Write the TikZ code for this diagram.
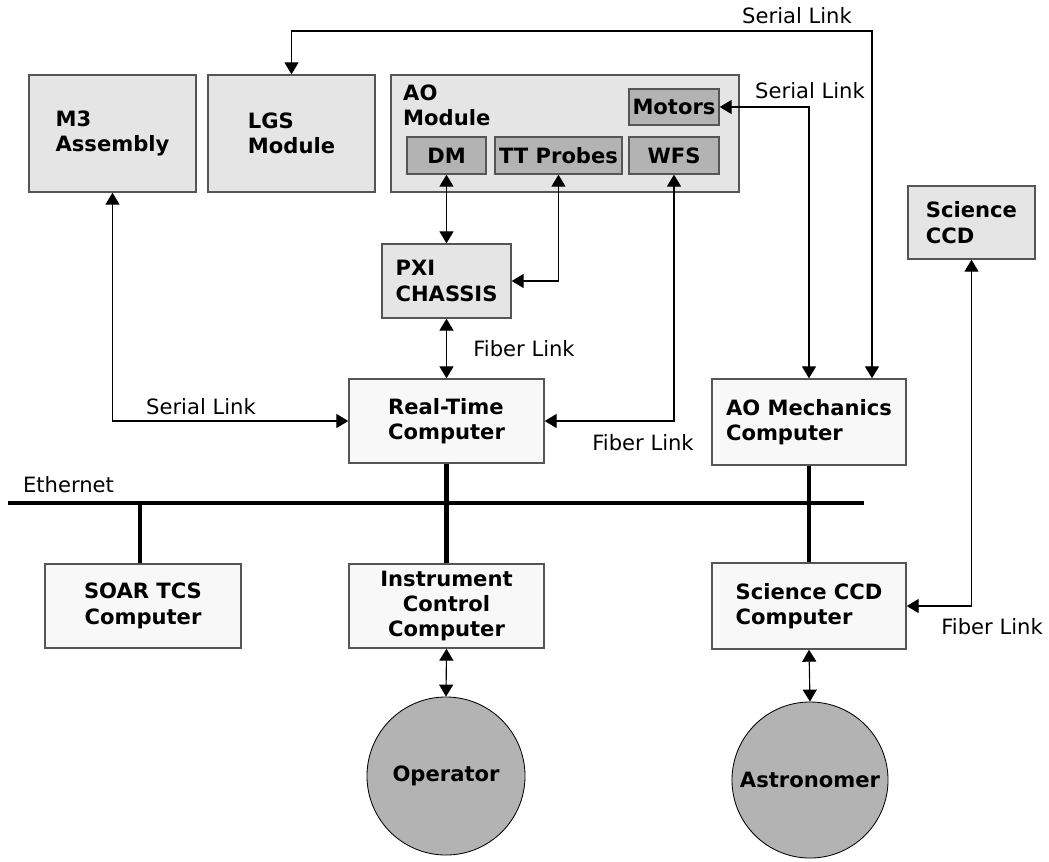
\documentclass[tikz,border=0pt]{standalone}
\usepackage{fontspec}
\setmainfont{DejaVu Sans}
\usetikzlibrary{arrows.meta}
\definecolor{boxgray}{HTML}{E5E5E5}
\definecolor{partgray}{HTML}{B3B3B3}
\definecolor{compgray}{HTML}{F8F8F8}
\definecolor{edgegray}{HTML}{555555}
\begin{document}
\begin{tikzpicture}[x=0.025cm,y=-0.025cm,
	font=\fontsize{15}{18}\selectfont,
	unit/.style={draw=edgegray,line width=1pt,fill=boxgray,font=\fontsize{15}{18}\selectfont\bfseries,align=left,inner sep=2pt},
	part/.style={unit,fill=partgray,minimum height=0.925cm},
	comp/.style={unit,fill=compgray,minimum width=4.875cm,minimum height=2.1cm},
	person/.style={circle,draw,line width=0.6pt,fill=partgray,inner sep=0pt,font=\fontsize{15}{18}\selectfont\bfseries},
	link/.style={line width=0.8pt,{Triangle[width=10pt,length=8.5pt]}-{Triangle[width=10pt,length=8.5pt]}},
	bus/.style={line width=3pt}]
	\useasboundingbox (0,0) rectangle (1049,861);
	% top row
	\node[unit,minimum width=4.175cm,minimum height=2.925cm] (m3) at (112.5,133.5) {M3\\Assembly};
	\node[unit,minimum width=4.175cm,minimum height=2.925cm] (lgs) at (291.5,133.5) {LGS\\Module};
	\node[unit,minimum width=8.7cm,minimum height=2.925cm,
		label={[anchor=north west,align=left,inner sep=0pt,xshift=9pt,yshift=-7pt,font=\fontsize{15}{18}\selectfont\bfseries]north west:AO\\Module}] (aomod) at (565,133.5) {};
	\node[part,minimum width=1.975cm] (dm) at (446.5,155.5) {DM};
	\node[part,minimum width=3.175cm] (tt) at (558.5,155.5) {TT Probes};
	\node[part,minimum width=2.25cm] (wfs) at (674,155.5) {WFS};
	\node[part,minimum width=2.25cm,minimum height=0.9cm] (motors) at (674,107) {Motors};
	\node[unit,minimum width=3.175cm,minimum height=1.825cm] (ccd) at (971.5,222.5) {Science\\CCD};
	\node[unit,minimum width=3.225cm,minimum height=1.85cm] (pxi) at (446.5,281) {PXI\\CHASSIS};
	% computers
	\node[comp] (rt) at (446.5,421) {Real-Time\\Computer};
	\node[comp,minimum width=4.85cm,minimum height=2.15cm] (aomech) at (809,422) {AO Mechanics\\Computer};
	\node[comp,minimum width=4.9cm,align=center] (soar) at (143,606) {SOAR TCS\\Computer};
	\node[comp,align=center] (icc) at (446.5,606) {Instrument\\Control\\Computer};
	\node[comp,minimum width=4.85cm,minimum height=2.15cm] (sccd) at (809,606) {Science CCD\\Computer};
	% people
	\node[person,minimum size=3.95cm] (op) at (446,776) {Operator};
	\node[person,minimum size=3.9cm] (astro) at (810,780) {Astronomer};
	% ethernet
	\coordinate (ethw) at (8,503);
	\coordinate (ethe) at (864,503);
	\draw[bus] (ethw) -- (ethe);
	\node (ethlbl) at (68.5,485) {Ethernet};
	\draw[bus] (rt.south) -- (icc.north);
	\draw[bus] (aomech.south) -- (sccd.north);
	\draw[bus] ([xshift=-2pt]soar.north) -- ([xshift=-2pt]soar.north |- ethw);
	% links
	\coordinate (slt) at (872,31);
	\draw[link] (lgs.north) |- (slt) -- (slt |- aomech.north);
	\node (sl1) at (797,16) {Serial Link};
	\draw[link] (motors.east) -| (aomech.north);
	\node (sl2) at (810,91) {Serial Link};
	\draw[link] (dm.south) -- (pxi.north);
	\draw[link] (tt.south) |- (pxi.east);
	\draw[link] (pxi.south) -- (rt.north);
	\node (fl1) at (524,349) {Fiber Link};
	\draw[link] (m3.south) |- (rt.west);
	\node (sl3) at (201,407) {Serial Link};
	\draw[link] (wfs.south) |- (rt.east);
	\node (fl2) at (643,443) {Fiber Link};
	\draw[link] (ccd.south) |- (sccd.east);
	\node (fl3) at (992,627) {Fiber Link};
	\draw[link] (icc.south) -- (op.north);
	\draw[link] (sccd.south) -- (astro.north);
\end{tikzpicture}
\end{document}
